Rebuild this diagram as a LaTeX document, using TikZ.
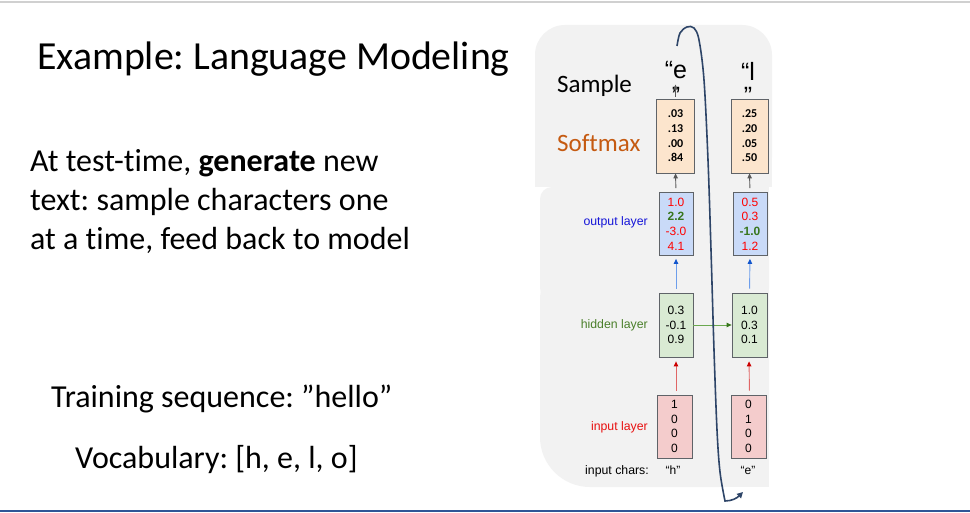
\documentclass[tikz,border=0pt]{standalone}
\usepackage{fontspec}
\setmainfont{Carlito}[Ligatures=NoCommon]
\newfontfamily\arialf{Liberation Sans}
\usetikzlibrary{arrows.meta}
\frenchspacing
\definecolor{bggray}{HTML}{F2F2F2}
\definecolor{topline}{HTML}{D0D0D0}
\definecolor{botline}{HTML}{2F5597}
\definecolor{boxborder}{HTML}{5F6368}
\definecolor{softfill}{HTML}{FCE5CD}
\definecolor{outfill}{HTML}{C9DAF8}
\definecolor{hidfill}{HTML}{D9EAD3}
\definecolor{inpfill}{HTML}{F4CCCC}
\definecolor{numred}{HTML}{FF0000}
\definecolor{numgreen}{HTML}{38761D}
\definecolor{lblblue}{HTML}{1515D8}
\definecolor{lblgreen}{HTML}{4A7F2A}
\definecolor{lblred}{HTML}{E81010}
\definecolor{softlbl}{HTML}{C55A11}
\definecolor{curvecol}{HTML}{2E4568}
\definecolor{bluearr}{HTML}{6D9EEB}
\definecolor{bluehead}{HTML}{1155CC}
\definecolor{redarr}{HTML}{E06666}
\definecolor{redhead}{HTML}{CC0000}
\definecolor{greenarr}{HTML}{6AA84F}
\definecolor{greenhead}{HTML}{38761D}
\definecolor{grayarr}{HTML}{595959}
\begin{document}
\begin{tikzpicture}[x=1pt,y=-1pt,
  cellbox/.style={draw=boxborder, line width=0.8pt, inner sep=0pt, align=center,
    font=\arialf\fontsize{12}{14.7}\selectfont},
  softbox/.style={cellbox, fill=softfill, minimum width=38pt, minimum height=74pt,
    font=\bfseries\fontsize{12}{14.7}\selectfont},
  outbox/.style={cellbox, fill=outfill, minimum width=34pt, minimum height=63pt},
  hidbox/.style={cellbox, fill=hidfill, minimum width=34pt, minimum height=64pt},
  inpbox/.style={cellbox, fill=inpfill, minimum width=35pt, minimum height=63pt},
  slidetext/.style={inner sep=0pt, anchor=base west, font=\fontsize{32}{39}\selectfont},
  layerlbl/.style={inner sep=0pt, anchor=base east, font=\arialf\fontsize{12.3}{14}\selectfont},
  sampletxt/.style={inner sep=0pt, anchor=base, align=center, font=\arialf\fontsize{25}{27}\selectfont},
  arrbase/.style={line width=0.9pt, shorten <=4pt},
  grayconn/.style={arrbase, draw=grayarr, -{Triangle[length=5pt,width=4.5pt]}},
  blueconn/.style={arrbase, draw=bluearr, -{Triangle[length=5pt,width=4.5pt,color=bluehead]}},
  redconn/.style={arrbase, draw=redarr, -{Triangle[length=5pt,width=4.5pt,color=redhead]}},
  greenconn/.style={arrbase, shorten <=0pt, draw=greenarr, -{Triangle[length=5pt,width=4.5pt,color=greenhead]}},
  feedback/.style={draw=curvecol, line width=1.6pt, -{Triangle[length=6pt,width=6pt]}}
]
\useasboundingbox (0,0) rectangle (970,513);
\fill[white] (0,0) rectangle (970,513);
\draw[topline, line width=1.5pt] (0,2) -- (970,2);
\draw[botline, line width=2pt] (0,511) -- (970,511);

% gray background panels
\fill[bggray, rounded corners=30pt] (535,25) rectangle (772,187);
\fill[bggray] (535,120) rectangle (772,187);
\fill[bggray, rounded corners=12pt] (540,187) rectangle (769,300);
\fill[bggray, rounded corners=50pt] (540,250) rectangle (769,487);
\fill[bggray] (620,187) rectangle (769,487);

% slide text
\node[slidetext, font=\fontsize{39.8}{48}\selectfont] (title) at (37,70) {Example: Language Modeling};
\node[slidetext] (l1) at (30,172) {At test-time, \textbf{generate} new};
\node[slidetext] (l2) at (30,211) {text: sample characters one};
\node[slidetext] (l3) at (30,250) {at a time, feed back to model};
\node[slidetext] (train) at (51,407) {Training sequence: ”hello”};
\node[slidetext] (vocab) at (75,468) {Vocabulary: [h, e, l, o]};

% diagram labels
\node[inner sep=0pt, anchor=base west, font=\fontsize{25}{30}\selectfont] (samplelbl) at (557,93) {Sample};
\node[inner sep=0pt, anchor=base west, font=\fontsize{25}{30}\selectfont, text=softlbl] (softlbl) at (557,152) {Softmax};
\node[layerlbl, text=lblblue] (outlbl) at (648,226) {output layer};
\node[layerlbl, text=lblgreen] (hidlbl) at (648,328) {hidden layer};
\node[layerlbl, text=lblred] (inplbl) at (648,430) {input layer};
\node[layerlbl] (charlbl) at (649,474) {input chars:};

% sampled characters (wrapped: closing quote on second line)
\node[sampletxt, anchor=north] (s1) at (676,61) {“e\\[-1pt]”};
\node[sampletxt, anchor=north] (s2) at (748,62) {“l\\[-3pt]”};

% boxes column 1
\node[softbox] (sm1) at (675.5,136) {.03\\.13\\.00\\.84};
\node[outbox] (o1) at (676,224) {\textcolor{numred}{1.0}\\\textcolor{numgreen}{\bfseries 2.2}\\\textcolor{numred}{-3.0}\\\textcolor{numred}{4.1}};
\node[hidbox] (h1) at (676,325) {0.3\\-0.1\\0.9};
\node[inpbox] (i1) at (674.5,426.5) {1\\0\\0\\0};
\node[inner sep=0pt, anchor=base, font=\arialf\fontsize{12}{14}\selectfont] (c1) at (673,474) {“h”};

% boxes column 2
\node[softbox, minimum width=37pt] (sm2) at (749.5,136) {.25\\.20\\.05\\.50};
\node[outbox] (o2) at (750,224) {\textcolor{numred}{0.5}\\\textcolor{numred}{0.3}\\\textcolor{numgreen}{\bfseries -1.0}\\\textcolor{numred}{1.2}};
\node[hidbox, minimum width=35pt] (h2) at (749.5,325) {1.0\\0.3\\0.1};
\node[inpbox] (i2) at (748.5,426.5) {0\\1\\0\\0};
\node[inner sep=0pt, anchor=base, font=\arialf\fontsize{12}{14}\selectfont] (c2) at (748,474) {“e”};

% connectors
\draw[grayconn, shorten <=2pt, shorten >=2pt] (sm1.north) -- ([yshift=16pt]sm1.north);
\draw[grayconn] (o1.north) -- (sm1.south);
\draw[grayconn] (o2.north) -- (sm2.south);
\draw[blueconn, shorten >=3pt] (h1.north) -- (o1.south);
\draw[blueconn, shorten >=3pt] (h2.north) -- (o2.south);
\draw[redconn, shorten >=4pt] ([xshift=1.5pt]i1.north) -- (h1.south);
\draw[redconn, shorten >=4pt] ([xshift=1pt]i2.north) -- ([xshift=-0.5pt]h2.south);
\draw[greenconn] (h1.east) -- (h2.west);

% feedback curve
\coordinate (fbstart) at (677,46);
\coordinate (fbturn) at (725,501);
\coordinate (fbend) at (743,492);
\draw[feedback] plot[smooth, tension=0.55] coordinates {(fbstart) (680,33) (687,27) (694,28) (699,40) (704,80) (708,160) (711,250) (714,350) (717,430) (720,472) (fbturn)}
  .. controls (732,501) and (737,498) .. (fbend);
\end{tikzpicture}
\end{document}
